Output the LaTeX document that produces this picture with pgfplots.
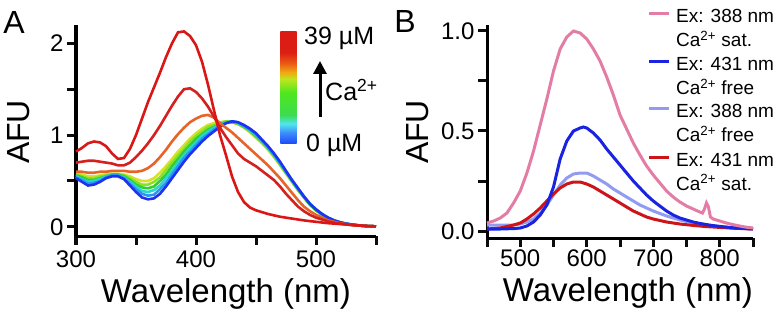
\documentclass[border=0pt]{standalone}
\usepackage{fontspec}
\setmainfont{Liberation Sans}
\usepackage{pgfplots}
\usepackage{pgfplotstable}
\pgfplotsset{compat=1.18}
\usetikzlibrary{arrows.meta}

\definecolor{tk}{RGB}{12,12,12}
\definecolor{cB}{RGB}{30,50,240}
\definecolor{cC1}{RGB}{40,150,245}
\definecolor{cC2}{RGB}{40,215,205}
\definecolor{cC3}{RGB}{50,205,50}
\definecolor{cC4}{RGB}{140,225,40}
\definecolor{cY}{RGB}{215,225,40}
\definecolor{cO}{RGB}{230,100,40}
\definecolor{cR2}{RGB}{212,32,30}
\definecolor{cR1}{RGB}{218,22,22}
\definecolor{pPink}{RGB}{228,125,165}
\definecolor{pBlue}{RGB}{25,35,225}
\definecolor{pLBlue}{RGB}{145,155,240}
\definecolor{pRed}{RGB}{205,20,25}

\definecolor{sb0}{RGB}{20,60,250}
\definecolor{sb1}{RGB}{30,70,250}
\definecolor{sb2}{RGB}{60,140,250}
\definecolor{sb3}{RGB}{80,230,240}
\definecolor{sb4}{RGB}{60,220,80}
\definecolor{sb5}{RGB}{80,230,30}
\definecolor{sb6}{RGB}{190,230,30}
\definecolor{sb7}{RGB}{240,170,20}
\definecolor{sb8}{RGB}{235,90,20}
\definecolor{sb9}{RGB}{220,30,20}
\definecolor{sb10}{RGB}{215,20,20}

\pgfdeclareverticalshading{rainbowbar}{30bp}{%
color(0bp)=(sb0);
color(25bp)=(sb1);
color(30bp)=(sb2);
color(34bp)=(sb3);
color(38bp)=(sb4);
color(48bp)=(sb5);
color(54bp)=(sb6);
color(57bp)=(sb7);
color(61bp)=(sb8);
color(66bp)=(sb9);
color(100bp)=(sb10)}

\pgfplotstableread{
l B C1 C2 C3 C4 Y O R2 R1
300 0.53 0.54 0.55 0.56 0.57 0.58 0.60 0.70 0.82
305 0.49 0.51 0.52 0.54 0.55 0.57 0.60 0.71 0.86
310 0.45 0.47 0.49 0.51 0.53 0.55 0.59 0.72 0.91
315 0.46 0.48 0.50 0.51 0.53 0.55 0.59 0.72 0.93
320 0.49 0.50 0.52 0.53 0.55 0.56 0.60 0.71 0.92
325 0.53 0.54 0.55 0.55 0.56 0.57 0.60 0.70 0.88
330 0.55 0.56 0.56 0.57 0.57 0.58 0.61 0.69 0.80
335 0.55 0.56 0.56 0.57 0.57 0.58 0.61 0.67 0.74
340 0.52 0.53 0.54 0.55 0.56 0.57 0.61 0.67 0.75
345 0.45 0.47 0.49 0.51 0.53 0.55 0.60 0.70 0.85
350 0.38 0.41 0.44 0.46 0.49 0.52 0.60 0.76 1.00
355 0.32 0.36 0.39 0.43 0.46 0.50 0.61 0.83 1.18
360 0.30 0.34 0.38 0.42 0.46 0.50 0.64 0.91 1.36
365 0.31 0.35 0.40 0.44 0.49 0.53 0.69 1.00 1.52
370 0.36 0.41 0.45 0.50 0.54 0.59 0.76 1.10 1.68
375 0.44 0.48 0.53 0.57 0.62 0.66 0.84 1.21 1.85
380 0.53 0.57 0.61 0.66 0.70 0.74 0.93 1.32 2.00
385 0.62 0.66 0.70 0.74 0.78 0.82 1.01 1.42 2.12
390 0.71 0.75 0.78 0.82 0.85 0.89 1.08 1.50 2.13
395 0.79 0.82 0.86 0.89 0.93 0.96 1.14 1.51 2.08
400 0.86 0.89 0.92 0.96 0.99 1.02 1.18 1.47 1.98
405 0.93 0.96 0.99 1.01 1.04 1.07 1.21 1.40 1.80
410 0.99 1.01 1.04 1.06 1.09 1.11 1.22 1.31 1.55
415 1.04 1.06 1.08 1.09 1.11 1.13 1.19 1.20 1.27
420 1.09 1.10 1.11 1.12 1.13 1.14 1.13 1.08 1.00
425 1.13 1.13 1.14 1.14 1.15 1.15 1.08 0.98 0.78
430 1.15 1.15 1.15 1.14 1.14 1.14 1.03 0.89 0.55
435 1.14 1.14 1.13 1.13 1.12 1.12 0.97 0.80 0.38
440 1.11 1.10 1.10 1.09 1.09 1.08 0.91 0.74 0.27
445 1.07 1.06 1.05 1.05 1.04 1.03 0.85 0.70 0.21
450 1.02 1.01 1.00 0.99 0.98 0.97 0.79 0.66 0.18
455 0.95 0.94 0.93 0.93 0.92 0.91 0.73 0.61 0.16
460 0.88 0.87 0.86 0.86 0.85 0.84 0.67 0.56 0.14
465 0.80 0.79 0.78 0.78 0.77 0.76 0.60 0.51 0.125
470 0.71 0.70 0.69 0.69 0.68 0.67 0.53 0.44 0.11
475 0.61 0.60 0.60 0.59 0.59 0.58 0.45 0.36 0.10
480 0.51 0.51 0.50 0.50 0.49 0.49 0.37 0.29 0.09
485 0.42 0.42 0.41 0.41 0.40 0.40 0.29 0.22 0.08
490 0.33 0.33 0.33 0.32 0.32 0.32 0.22 0.17 0.07
495 0.25 0.25 0.25 0.24 0.24 0.24 0.17 0.13 0.062
500 0.19 0.19 0.19 0.18 0.18 0.18 0.13 0.10 0.055
505 0.14 0.14 0.14 0.13 0.13 0.13 0.10 0.08 0.047
510 0.10 0.10 0.10 0.10 0.095 0.095 0.07 0.06 0.04
515 0.07 0.07 0.07 0.07 0.068 0.068 0.055 0.045 0.035
520 0.05 0.05 0.049 0.048 0.046 0.045 0.04 0.035 0.03
525 0.035 0.035 0.034 0.033 0.032 0.032 0.03 0.027 0.025
530 0.025 0.025 0.024 0.023 0.022 0.022 0.02 0.02 0.02
535 0.017 0.017 0.016 0.016 0.015 0.015 0.015 0.015 0.015
540 0.01 0.01 0.01 0.01 0.01 0.01 0.01 0.01 0.01
545 0.007 0.007 0.007 0.007 0.007 0.007 0.007 0.007 0.007
550 0.005 0.005 0.005 0.005 0.005 0.005 0.005 0.005 0.005
}\tabA

\pgfplotstableread{
l P
450 0.04
460 0.05
470 0.065
480 0.09
490 0.14
500 0.20
510 0.29
520 0.40
530 0.53
540 0.66
550 0.80
560 0.91
570 0.97
580 1.00
590 0.99
600 0.96
610 0.91
620 0.85
630 0.77
640 0.68
650 0.58
660 0.51
670 0.44
680 0.38
690 0.325
700 0.28
710 0.24
720 0.20
730 0.17
740 0.145
750 0.125
760 0.11
770 0.095
774 0.09
777 0.11
780 0.14
783 0.12
786 0.07
790 0.06
800 0.05
810 0.04
820 0.032
830 0.025
840 0.019
850 0.015
}\tabP

\pgfplotstableread{
l Bf
450 0.01
470 0.01
490 0.012
500 0.015
510 0.025
520 0.045
530 0.08
540 0.13
550 0.22
560 0.36
570 0.45
580 0.50
590 0.515
595 0.52
600 0.515
610 0.49
620 0.455
630 0.41
640 0.37
650 0.33
660 0.29
670 0.25
680 0.215
690 0.18
700 0.15
710 0.125
720 0.10
730 0.08
740 0.065
750 0.055
760 0.045
770 0.038
780 0.032
790 0.027
800 0.023
820 0.016
850 0.01
}\tabBf

\pgfplotstableread{
l Lf
450 0.03
470 0.03
490 0.03
500 0.035
510 0.045
520 0.06
530 0.09
540 0.13
550 0.18
560 0.23
570 0.265
580 0.285
590 0.29
600 0.29
610 0.275
620 0.255
630 0.235
640 0.21
650 0.19
660 0.17
670 0.15
680 0.13
690 0.115
700 0.10
720 0.075
740 0.055
760 0.04
780 0.03
800 0.022
820 0.016
850 0.01
}\tabLf

\pgfplotstableread{
l Rs
450 0.01
470 0.015
490 0.03
500 0.04
510 0.06
520 0.085
530 0.115
540 0.15
550 0.185
560 0.215
570 0.235
580 0.245
590 0.245
600 0.235
610 0.22
620 0.20
630 0.18
640 0.16
650 0.14
660 0.12
670 0.10
680 0.085
690 0.07
700 0.06
720 0.045
740 0.035
760 0.028
780 0.022
800 0.018
820 0.014
850 0.01
}\tabRs

\pgfplotsset{
  common/.style={
    scale only axis,
    anchor=south west,
    axis lines=left,
    axis line style={-, line width=3pt, black},
    tick align=outside,
    tick style={tk, line width=3pt},
    major tick length=9pt,
    xticklabel style={font=\fontsize{24}{28}\selectfont},
    yticklabel style={font=\fontsize{24}{28}\selectfont},
    clip=false,
  }
}

\begin{document}
\begin{tikzpicture}
\useasboundingbox (0,0) rectangle (776pt,311pt);

% ---------- Panel A ----------
\begin{axis}[common,
  at={(76pt,75pt)}, width=300pt, height=211pt,
  xmin=300, xmax=550, ymin=-0.1, ymax=2.2,
  xtick={300,350,400,450,500,550},
  xticklabels={300,,400,,500,},
  ytick={0,0.5,1,1.5,2},
  yticklabels={0,,1,,2},
  xticklabel style={yshift=-2pt},
  xlabel={Wavelength (nm)},
  ylabel={AFU},
  every axis x label/.style={at={(axis description cs:0.5,0)}, anchor=center, yshift=-58pt, font=\fontsize{33}{38}\selectfont},
  every axis y label/.style={at={(axis description cs:-0.19,0.493)}, anchor=center, rotate=90, font=\fontsize{32}{36}\selectfont},
]
\addplot[cY, line width=2.6pt] table[x=l,y=Y]{\tabA};
\addplot[cC4, line width=2.6pt] table[x=l,y=C4]{\tabA};
\addplot[cC3, line width=2.6pt] table[x=l,y=C3]{\tabA};
\addplot[cC2, line width=2.6pt] table[x=l,y=C2]{\tabA};
\addplot[cC1, line width=2.6pt] table[x=l,y=C1]{\tabA};
\addplot[cB, line width=2.6pt] table[x=l,y=B]{\tabA};
\addplot[cO, line width=2.6pt] table[x=l,y=O]{\tabA};
\addplot[cR2, line width=2.6pt] table[x=l,y=R2]{\tabA};
\addplot[cR1, line width=2.6pt] table[x=l,y=R1]{\tabA};
\end{axis}

% colour bar
\shade[shading=rainbowbar] (275pt,167pt) rectangle (302pt,279pt);
\node[anchor=west, font=\fontsize{25}{30}\selectfont, inner sep=0pt] at (304pt,273pt) {39 µM};
\node[anchor=west, font=\fontsize{25}{30}\selectfont, inner sep=0pt] at (306pt,166pt) {0 µM};
\draw[line width=3pt, -{Triangle[length=13pt,width=13pt]}] (320pt,194pt) -- (320pt,250pt);
\node[anchor=west, font=\fontsize{25}{30}\selectfont, inner sep=0pt] at (325pt,221pt) {Ca\textsuperscript{2+}};

\node[font=\fontsize{32}{36}\selectfont, inner sep=0pt] at (14pt,289pt) {A};

% ---------- Panel B ----------
\begin{axis}[common,
  at={(487pt,73pt)}, width=266pt, height=213pt,
  xmin=450, xmax=850, ymin=-0.035, ymax=1.03,
  xtick={450,500,550,600,650,700,750,800,850},
  xticklabels={,500,,600,,700,,800,},
  ytick={0,0.25,0.5,0.75,1},
  yticklabels={0.0,,0.5,,1.0},
  xticklabel style={yshift=1pt},
  xlabel={Wavelength (nm)},
  ylabel={AFU},
  every axis x label/.style={at={(axis description cs:0.53,0)}, anchor=center, yshift=-55pt, font=\fontsize{33}{38}\selectfont},
  every axis y label/.style={at={(axis description cs:-0.26,0.498)}, anchor=center, rotate=90, font=\fontsize{32}{36}\selectfont},
]
\addplot[pLBlue, line width=3pt] table[x=l,y=Lf]{\tabLf};
\addplot[pRed, line width=3pt] table[x=l,y=Rs]{\tabRs};
\addplot[pBlue, line width=3pt] table[x=l,y=Bf]{\tabBf};
\addplot[pPink, line width=3pt] table[x=l,y=P]{\tabP};
\end{axis}

\node[font=\fontsize{32}{36}\selectfont, inner sep=0pt] at (405pt,290pt) {B};

% legend
\begin{scope}[every node/.style={anchor=base west, inner sep=0pt, font=\fontsize{19}{22}\selectfont}]
\draw[pPink, line width=3pt] (649pt,297pt) -- (669pt,297pt);
\node at (676pt,288pt) {Ex: 388 nm};
\node at (676pt,264pt) {Ca\textsuperscript{2+} sat.};
\draw[pBlue, line width=3pt] (649pt,249pt) -- (669pt,249pt);
\node at (676pt,240pt) {Ex: 431 nm};
\node at (676pt,216pt) {Ca\textsuperscript{2+} free};
\draw[pLBlue, line width=3pt] (649pt,202pt) -- (669pt,202pt);
\node at (676pt,193pt) {Ex: 388 nm};
\node at (676pt,169pt) {Ca\textsuperscript{2+} free};
\draw[pRed, line width=3pt] (649pt,154pt) -- (669pt,154pt);
\node at (676pt,145pt) {Ex: 431 nm};
\node at (676pt,121pt) {Ca\textsuperscript{2+} sat.};
\end{scope}
\end{tikzpicture}
\end{document}
